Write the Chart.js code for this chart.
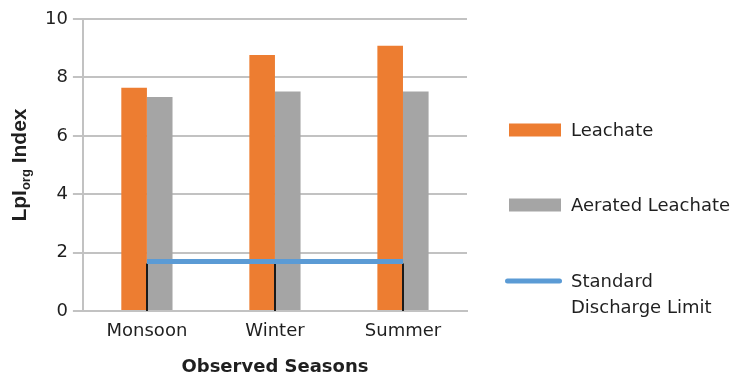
<!DOCTYPE html>
<html>
<head>
<meta charset="utf-8">
<script src="https://cdn.jsdelivr.net/npm/chart.js@4/dist/chart.umd.min.js"></script>
<style>
  html, body { margin: 0; padding: 0; background: #fff; }
  #wrap { width: 739px; height: 375px; position: relative; }
</style>
</head>
<body>
<div id="wrap"><canvas id="chart"></canvas></div>
<script>
// Seasonal leachate pollution index (organic) values
const seasons = ['Monsoon', 'Winter', 'Summer'];
const leachate = [7.65, 8.77, 9.08];
const aeratedLeachate = [7.33, 7.52, 7.52];
const dischargeLimit = [1.7, 1.7, 1.7];
const yTicks = [0, 2, 4, 6, 8, 10];
const seriesNames = ['Leachate', 'Aerated Leachate', 'Standard Discharge Limit'];
const legendLines = [['Leachate'], ['Aerated Leachate'], ['Standard', 'Discharge Limit']];
const yTitleParts = ['LpI', 'org', ' Index'];
const xTitle = 'Observed Seasons';

const FONT = "'DejaVu Sans', sans-serif";
const TITLE_FONT = "'Liberation Sans', Arial, sans-serif";
const TEXT = '#1f1f1f';
const GRID = '#c2c2c2';
const ORANGE = '#ed7d31';
const GREY = '#a5a5a5';
const BLUE = '#5b9bd5';

// Vertical drop lines from the limit line down to the baseline
const dropLines = {
  id: 'dropLines',
  afterDatasetsDraw(chart) {
    const meta = chart.getDatasetMeta(2);
    const y0 = chart.scales.y.getPixelForValue(0);
    const ctx = chart.ctx;
    ctx.save();
    ctx.strokeStyle = '#1a1a1a';
    ctx.lineWidth = 2;
    meta.data.forEach(pt => {
      ctx.beginPath();
      ctx.moveTo(Math.round(pt.x), pt.y + 2);
      ctx.lineTo(Math.round(pt.x), y0);
      ctx.stroke();
    });
    // redraw the limit line over the drop lines
    ctx.strokeStyle = BLUE;
    ctx.lineWidth = 5;
    ctx.beginPath();
    meta.data.forEach((pt, i) => { if (i === 0) ctx.moveTo(pt.x, pt.y); else ctx.lineTo(pt.x, pt.y); });
    ctx.stroke();
    ctx.restore();
  }
};

// Legend on the right, with a wrapped label for the limit line
const sideLegend = {
  id: 'sideLegend',
  afterDraw(chart) {
    const ca = chart.chartArea;
    const ctx = chart.ctx;
    const x0 = ca.right + 42;
    const centers = [ca.top + 111, ca.top + 186, ca.top + 262];
    ctx.save();
    chart.data.datasets.forEach((ds, i) => {
      const cy = centers[i];
      if (ds.type === 'line') {
        ctx.strokeStyle = ds.borderColor;
        ctx.lineWidth = 5;
        ctx.lineCap = 'round';
        ctx.beginPath();
        ctx.moveTo(x0 - 1.5, cy);
        ctx.lineTo(x0 + 50.5, cy);
        ctx.stroke();
      } else {
        ctx.fillStyle = ds.backgroundColor;
        ctx.fillRect(x0, cy - 6.5, 52, 13);
      }
      ctx.fillStyle = TEXT;
      ctx.font = '18px ' + FONT;
      ctx.textBaseline = 'middle';
      ctx.textAlign = 'left';
      legendLines[i].forEach((line, k) => {
        ctx.fillText(line, x0 + 62, cy + 1 + k * 26);
      });
    });
    ctx.restore();
  }
};

// Rotated y-axis title with subscript
const yAxisTitle = {
  id: 'yAxisTitle',
  afterDraw(chart) {
    const ca = chart.chartArea;
    const ctx = chart.ctx;
    const big = 'bold 21px ' + TITLE_FONT;
    const small = 'bold 13px ' + TITLE_FONT;
    ctx.save();
    ctx.font = big;
    const w0 = ctx.measureText(yTitleParts[0]).width;
    const w2 = ctx.measureText(yTitleParts[2]).width;
    ctx.font = small;
    const w1 = ctx.measureText(yTitleParts[1]).width;
    const total = w0 + w1 + w2;
    ctx.translate(26, (ca.top + ca.bottom) / 2);
    ctx.rotate(-Math.PI / 2);
    ctx.fillStyle = TEXT;
    ctx.textBaseline = 'alphabetic';
    ctx.textAlign = 'left';
    let x = -total / 2;
    ctx.font = big;
    ctx.fillText(yTitleParts[0], x, 0);
    x += w0;
    ctx.font = small;
    ctx.fillText(yTitleParts[1], x, 4);
    x += w1;
    ctx.font = big;
    ctx.fillText(yTitleParts[2], x, 0);
    ctx.restore();
  }
};

new Chart(document.getElementById('chart'), {
  data: {
    labels: seasons,
    datasets: [
      { type: 'bar', label: seriesNames[0], data: leachate, backgroundColor: ORANGE,
        categoryPercentage: 0.4, barPercentage: 1.0, order: 1 },
      { type: 'bar', label: seriesNames[1], data: aeratedLeachate, backgroundColor: GREY,
        categoryPercentage: 0.4, barPercentage: 1.0, order: 1 },
      { type: 'line', label: seriesNames[2], data: dischargeLimit, borderColor: BLUE,
        borderWidth: 5, pointRadius: 0, fill: false, tension: 0, order: 0 }
    ]
  },
  options: {
    responsive: true,
    maintainAspectRatio: false,
    animation: false,
    devicePixelRatio: 1,
    layout: { padding: { left: 40, right: 272, top: 19, bottom: 0 } },
    plugins: {
      legend: { display: false },
      tooltip: { enabled: false }
    },
    scales: {
      x: {
        grid: { display: false, drawTicks: false },
        border: { display: true, color: GRID, width: 2 },
        ticks: { color: TEXT, padding: 9, font: { family: FONT, size: 18 } },
        title: {
          display: true, text: xTitle, color: TEXT,
          font: { family: FONT, size: 18, weight: 'bold', lineHeight: 0.85 },
          padding: { top: 9, bottom: 0 }
        }
      },
      y: {
        min: 0, max: 10,
        afterBuildTicks(scale) { scale.ticks = yTicks.map(v => ({ value: v })); },
        grid: { color: GRID, lineWidth: 2, tickLength: 10, drawTicks: true },
        border: { display: true, color: GRID, width: 2 },
        ticks: { color: TEXT, padding: 5, font: { family: FONT, size: 18 } }
      }
    }
  },
  plugins: [dropLines, sideLegend, yAxisTitle]
});
</script>
</body>
</html>
